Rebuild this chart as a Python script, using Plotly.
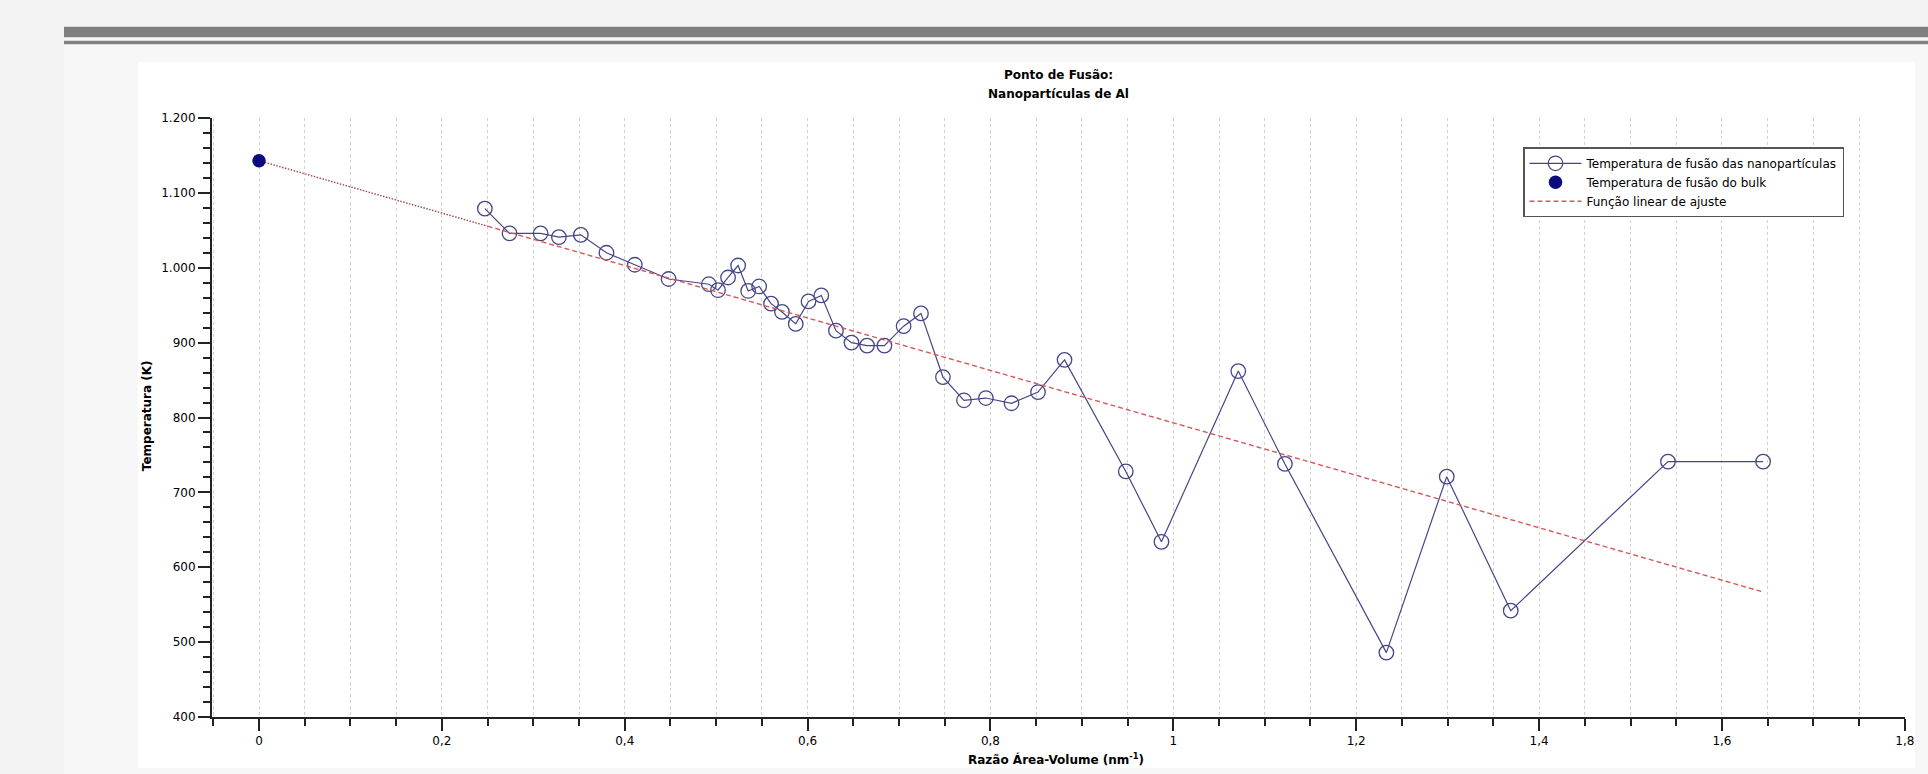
import plotly.graph_objects as go

# ---------------- data ----------------
nano_x = [0.247, 0.274, 0.308, 0.328, 0.352, 0.380, 0.411, 0.448, 0.492, 0.502,
          0.513, 0.524, 0.535, 0.547, 0.560, 0.572, 0.587, 0.601, 0.615, 0.631,
          0.648, 0.665, 0.684, 0.705, 0.724, 0.748, 0.771, 0.795, 0.823, 0.852,
          0.881, 0.948, 0.987, 1.071, 1.122, 1.233, 1.299, 1.369, 1.541, 1.645]
nano_y = [1079, 1046, 1046, 1041, 1044, 1020, 1004, 985, 978, 970,
          987, 1003, 969, 975, 952, 941, 925, 955, 963, 916,
          900, 896, 896, 922, 939, 854, 823, 826, 819, 834,
          877, 728, 634, 862, 738, 486, 721, 542, 741, 741]

bulk_x = [0]
bulk_y = [1143]

fit_extrap_x = [0, 0.25]
fit_extrap_y = [1143, 1055.5]
fit_x = [0.25, 1.645]
fit_y = [1055.5, 567]

x_tick_vals = [0, 0.2, 0.4, 0.6, 0.8, 1.0, 1.2, 1.4, 1.6, 1.8]
x_tick_text = ["0", "0,2", "0,4", "0,6", "0,8", "1", "1,2", "1,4", "1,6", "1,8"]
y_tick_vals = [400, 500, 600, 700, 800, 900, 1000, 1100, 1200]
y_tick_text = ["400", "500", "600", "700", "800", "900", "1.000", "1.100", "1.200"]

title_line1 = "Ponto de Fusão:"
title_line2 = "Nanopartículas de Al"
x_title = "Razão Área-Volume (nm<sup>-1</sup>)"
y_title = "Temperatura (K)"
names = ["Temperatura de fusão das nanopartículas",
         "Temperatura de fusão do bulk",
         "Função linear de ajuste"]

# ---------------- layout geometry ----------------
W, H = 1928, 774
L, R, T, B = 212, 1905, 117.7, 717


def fx(px):
    return (px - L) / (R - L)


def fy(py):
    return (B - py) / (B - T)


FONT = "DejaVu Sans"
NAVY = "#45458a"
GRID = "#d0d0d0"

fig = go.Figure()

fig.add_trace(go.Scatter(
    x=fit_extrap_x, y=fit_extrap_y, mode="lines",
    line=dict(color="#9c4848", width=1.4, dash="1.5px,1.5px"),
    showlegend=False, hoverinfo="skip"))
fig.add_trace(go.Scatter(
    x=nano_x, y=nano_y, mode="lines+markers", name=names[0],
    line=dict(color=NAVY, width=1.2),
    marker=dict(symbol="circle-open", size=14.5, color=NAVY, line=dict(width=1.3, color=NAVY))))
fig.add_trace(go.Scatter(
    x=bulk_x, y=bulk_y, mode="markers", name=names[1],
    marker=dict(symbol="circle", size=13.5, color="#0b0b7d")))
fig.add_trace(go.Scatter(
    x=fit_x, y=fit_y, mode="lines", name=names[2],
    line=dict(color="#d45a5a", width=1.4, dash="5px,3px")))

shapes = [
    dict(type="rect", xref="paper", yref="paper", layer="below",
         x0=fx(64), x1=fx(W + 5), y0=fy(H + 5), y1=fy(26),
         fillcolor="#f7f7f7", line=dict(width=0)),
    dict(type="rect", xref="paper", yref="paper", layer="below",
         x0=fx(64), x1=fx(W + 5), y0=fy(37), y1=fy(26.5),
         fillcolor="#7f7f7f", line=dict(width=0)),
    dict(type="rect", xref="paper", yref="paper", layer="below",
         x0=fx(64), x1=fx(W + 5), y0=fy(44), y1=fy(40.5),
         fillcolor="#7f7f7f", line=dict(width=0)),
    dict(type="rect", xref="paper", yref="paper", layer="below",
         x0=fx(138), x1=fx(1915), y0=fy(768), y1=fy(62),
         fillcolor="#ffffff", line=dict(width=0)),
]

annotations = [
    dict(text="<b>" + title_line1 + "</b>", xref="paper", yref="paper",
         x=fx(1058), y=fy(75), showarrow=False, xanchor="center", yanchor="middle",
         font=dict(family=FONT, size=12, color="#000")),
    dict(text="<b>" + title_line2 + "</b>", xref="paper", yref="paper",
         x=fx(1058), y=fy(94), showarrow=False, xanchor="center", yanchor="middle",
         font=dict(family=FONT, size=12, color="#000")),
    dict(text="<b>" + x_title + "</b>", xref="paper", yref="paper",
         x=fx(1056), y=fy(759), showarrow=False, xanchor="center", yanchor="middle",
         font=dict(family=FONT, size=12, color="#000")),
    dict(text="<b>" + y_title + "</b>", xref="paper", yref="paper",
         x=fx(147), y=fy(416), showarrow=False, xanchor="center", yanchor="middle",
         textangle=-90, font=dict(family=FONT, size=12, color="#000")),
]

fig.update_layout(
    width=W, height=H,
    margin=dict(l=L, r=W - R, t=T, b=H - B, pad=0),
    paper_bgcolor="#f3f3f3",
    plot_bgcolor="rgba(0,0,0,0)",
    font=dict(family=FONT, size=12, color="#000"),
    shapes=shapes,
    annotations=annotations,
    legend=dict(
        x=fx(1523), y=fy(147), xanchor="left", yanchor="top",
        bgcolor="#ffffff", bordercolor="#555555", borderwidth=1.5,
        font=dict(family=FONT, size=12, color="#000"),
        tracegroupgap=0, itemwidth=52),
    showlegend=True,
)

fig.update_xaxes(
    range=[-0.0514, 1.8002], tickmode="array", tickvals=x_tick_vals, ticktext=x_tick_text,
    ticks="outside", ticklen=12, tickwidth=1.5, tickcolor="#222",
    showline=True, linewidth=2, linecolor="#222", zeroline=False,
    showgrid=True, gridcolor=GRID, gridwidth=1, griddash="dot",
    tickfont=dict(family=FONT, size=12, color="#000"),
    minor=dict(tickmode="linear", tick0=0, dtick=0.05, ticks="outside", ticklen=7,
               tickwidth=1.5, tickcolor="#222", showgrid=True,
               gridcolor=GRID, gridwidth=1, griddash="dot"),
)
fig.update_yaxes(
    range=[400, 1200], tickmode="array", tickvals=y_tick_vals, ticktext=y_tick_text,
    ticks="outside", ticklen=12, tickwidth=1.5, tickcolor="#222",
    showline=True, linewidth=2, linecolor="#222", zeroline=False, showgrid=False,
    tickfont=dict(family=FONT, size=12, color="#000"),
    minor=dict(tickmode="linear", tick0=400, dtick=20, ticks="outside", ticklen=7,
               tickwidth=1.5, tickcolor="#222", showgrid=False),
)

fig.write_html(
    "out.html",
    config={"displayModeBar": False},
    post_script="document.body.style.margin='0';document.body.style.overflow='hidden';",
)
